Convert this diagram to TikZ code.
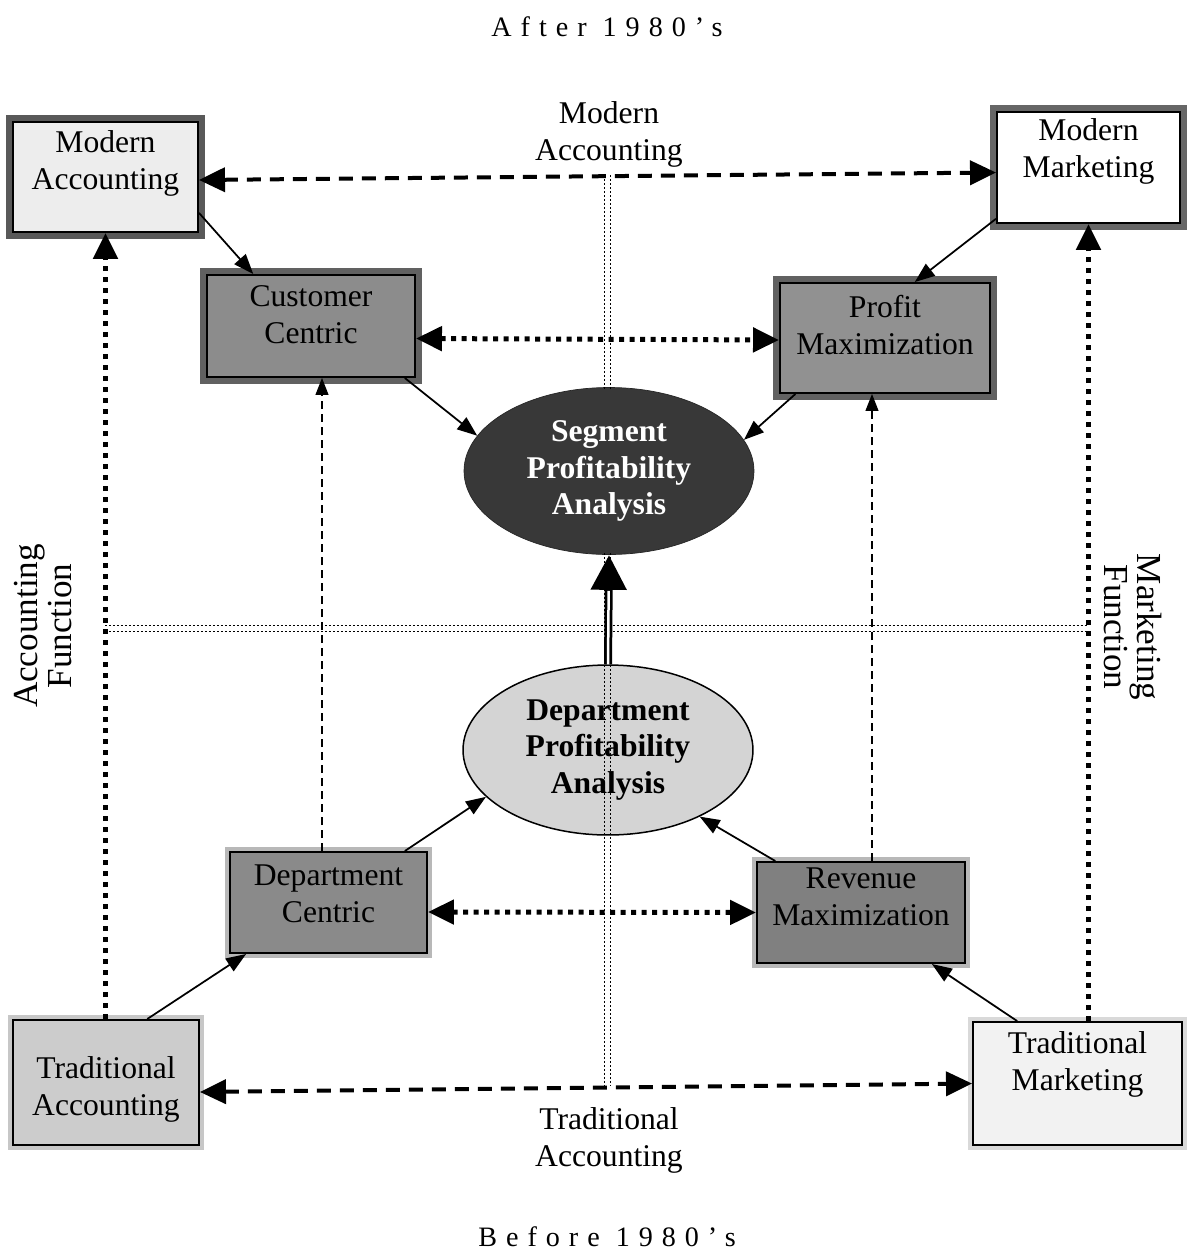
\documentclass[tikz,border=0pt]{standalone}
\usepackage{fontspec}
\setmainfont{Liberation Serif}
\usetikzlibrary{arrows.meta,shapes.geometric}

\tikzset{
  headL/.tip={Triangle[length=0.52cm,width=0.48cm]},
  headX/.tip={Triangle[length=0.7cm,width=0.68cm]},
  headM/.tip={Triangle[length=0.4cm,width=0.3cm]},
  headS/.tip={Triangle[length=0.34cm,width=0.26cm]},
}

\begin{document}
\begin{tikzpicture}[x=0.02cm, y=-0.02cm,
  every node/.style={font=\fontsize{18}{21}\selectfont},
  box/.style={draw=black, line width=0.04cm, inner sep=0pt},
  halo/.style={preaction={draw=#1, line width=0.3cm}},
  lhalo/.style={preaction={draw=#1, line width=0.2cm}},
  boxtxt/.style={align=center},
  title/.style={font=\fontsize{16}{19}\selectfont\addfontfeatures{LetterSpace=32}},
  sidetxt/.style={align=center, font=\fontsize{20}{19}\selectfont},
  ell/.style={ellipse, inner sep=0pt, minimum width=5.8cm, align=center,
    font=\fontsize{18}{21}\selectfont\bfseries},
  dashlink/.style={line width=0.08cm, dash pattern=on 0.28cm off 0.18cm, headL-headL},
  dotlink/.style={line width=0.1cm, dash pattern=on 0.1cm off 0.11cm, headL-headL},
  vdotlink/.style={line width=0.11cm, dash pattern=on 0.11cm off 0.11cm, -headL},
  thinlink/.style={line width=0.035cm, -headM},
  thindash/.style={line width=0.025cm, dash pattern=on 0.16cm off 0.1cm, -headS},
  axis/.style={line width=0.02cm, dash pattern=on 0.04cm off 0.04cm},
]
\useasboundingbox (0,0) rectangle (1188,1252);

% titles
\node[title] (after) at (607,27) {After 1980’s};
\node[title] (before) at (607,1237) {Before 1980’s};

% corner boxes
\node[box, halo=black!65, fill=black!7, minimum width=3.7cm, minimum height=2.2cm,
  label={[boxtxt, yshift=0.27cm]center:{Modern\\Accounting}}] (macc) at (105.5,177) {};
\node[box, halo=black!60, fill=white, minimum width=3.66cm, minimum height=2.22cm,
  label={[boxtxt, yshift=0.32cm]center:{Modern\\Marketing}}] (mmkt) at (1088.5,167.5) {};
\node[box, lhalo=black!22, fill=black!20, minimum width=3.72cm, minimum height=2.5cm,
  label={[boxtxt, yshift=-0.14cm]center:{Traditional\\Accounting}}] (tacc) at (106,1082.5) {};
\node[box, lhalo=black!15, fill=black!5, minimum width=4.18cm, minimum height=2.46cm,
  label={[boxtxt, yshift=0.39cm]center:{Traditional\\Marketing}}] (tmkt) at (1077.5,1083.5) {};

% inner boxes
\node[box, halo=black!62, fill=black!45, minimum width=4.16cm, minimum height=2.04cm,
  label={[boxtxt, yshift=0.22cm]center:{Customer\\Centric}}] (ccen) at (311,326) {};
\node[box, halo=black!62, fill=black!43, minimum width=4.2cm, minimum height=2.2cm,
  label={[boxtxt, yshift=0.26cm]center:{Profit\\Maximization}}] (pmax) at (885,338) {};
\node[box, lhalo=black!28, fill=black!46, minimum width=3.94cm, minimum height=2.02cm,
  label={[boxtxt, yshift=0.17cm]center:{Department\\Centric}}] (dcen) at (328.5,902.5) {};
\node[box, lhalo=black!28, fill=black!50, minimum width=4.16cm, minimum height=2.02cm,
  label={[boxtxt, yshift=0.31cm]center:{Revenue\\Maximization}}] (rmax) at (861,912.5) {};

% ellipses
\node[ell, fill=black!78, draw=black!85, minimum height=3.34cm, text=white] (seg) at (609,471)
  {Segment\\Profitability\\Analysis};
\node[ell, fill=black!17, draw=black, line width=0.03cm, minimum height=3.4cm] (dell) at (608,750)
  {Department\\Profitability\\Analysis};

% labels
\node[align=center] (modacc) at (609,134.5) {Modern\\Accounting};
\node[align=center] (tradacc) at (609,1140) {Traditional\\Accounting};
\node[sidetxt, rotate=90] (accfn) at (43,626) {Accounting\\Function};
\node[sidetxt, rotate=-90] (mktfn) at (1133,627) {Marketing\\Function};

% axes
\foreach \d in {-3,3} {
  \draw[axis] (607+\d,175) -- (607+\d,389);
  \draw[axis] (607+\d,553) -- (607+\d,1085);
  \draw[axis] (105,628+\d) -- (1088,628+\d);
}

% links
\draw[dashlink] ([yshift=-0.06cm]macc.east) -- ([yshift=-0.1cm]mmkt.west);
\draw[dashlink] ([yshift=-0.19cm]tacc.east) -- (tmkt.west);
\draw[dotlink] ([yshift=-0.25cm]ccen.east) -- ([yshift=-0.04cm]pmax.west);
\draw[dotlink] ([yshift=-0.19cm]dcen.east) -- (rmax.west);
\draw[vdotlink] (macc.south |- tacc.north) -- (macc.south);
\draw[vdotlink] (mmkt.south |- tmkt.north) -- (mmkt.south);

\coordinate (dctop) at ([xshift=-0.13cm]dcen.north);
\coordinate (rmtop) at ([xshift=0.22cm]rmax.north);
\draw[thindash] (dctop) -- (dctop |- ccen.south);
\draw[thindash] (rmtop) -- (rmtop |- pmax.south);

\draw[thinlink] (macc.-21) -- (ccen.138);
\draw[thinlink] (mmkt.-151) -- (pmax.62);
\draw[thinlink] (ccen.-29) -- (seg.165);
\draw[thinlink] (pmax.-148) -- (seg.13);
\draw[thinlink] (tacc.57) -- (dcen.-148);
\draw[thinlink] (dcen.34) -- (dell.-159);
\draw[thinlink] (rmax.149) -- (dell.-36);
\draw[thinlink] (tmkt.134) -- (rmax.-36);

\draw[line width=0.16cm, -headX, postaction={draw=white, line width=0.05cm, -, shorten >=0.72cm}]
  (dell.north) -- (seg.south);
\end{tikzpicture}
\end{document}
